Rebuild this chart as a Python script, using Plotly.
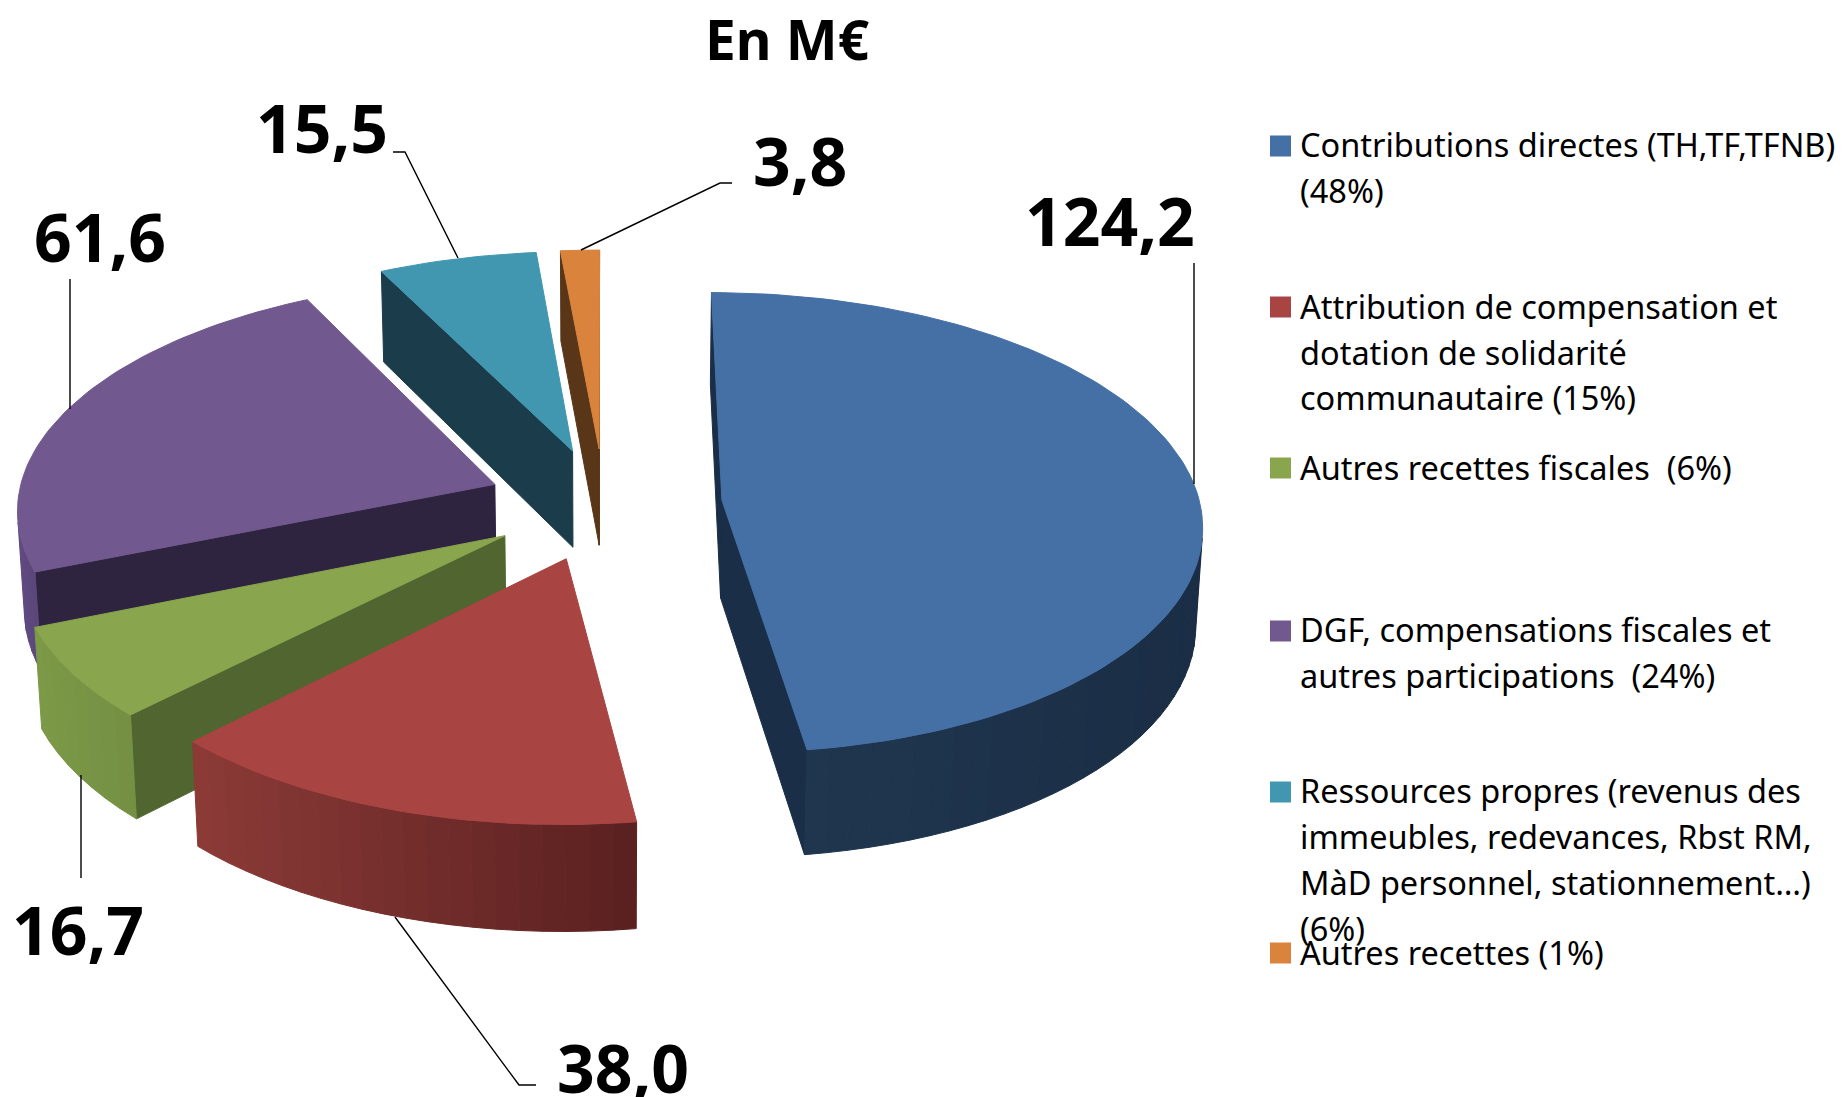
"""Budget recettes : camembert 3D eclate, en M EUR."""

import numpy as np
import plotly.graph_objects as go

VALUES = [124.2, 38.0, 16.7, 61.6, 15.5, 3.8]
VALUE_LABELS = ["124,2", "38,0", "16,7", "61,6", "15,5", "3,8"]
LEGEND_ENTRIES = [
    ["Contributions directes (TH,TF,TFNB)", "(48%)"],
    ["Attribution de compensation et", "dotation de solidarité", "communautaire (15%)"],
    ["Autres recettes fiscales  (6%)"],
    ["DGF, compensations fiscales et", "autres participations  (24%)"],
    ["Ressources propres (revenus des", "immeubles, redevances, Rbst RM,", "MàD personnel, stationnement…)", "(6%)"],
    ["Autres recettes (1%)"],
]
TOP_COLORS = ["#4570A5", "#A84441", "#89A54E", "#71588F", "#4197AF", "#D9833D"]
EDGE_COLORS = ["#1A2E48", "#5A2020", "#50652F", "#2E2440", "#1B3C4A", "#5A3618"]
WALL_LEFT = ["#20364F", "#8C3B37", "#7C9A47", "#604B82", "#1B3C4A", "#5A3618"]
WALL_RIGHT = ["#1A2D45", "#5A2020", "#748F43", "#5A4679", "#1B3C4A", "#5A3618"]

# back to front
DRAW_ORDER = [4, 5, 3, 2, 1, 0]

# pie projection, in screen pixels
CX, CY = 604.4, 504.0
RADIUS = 478.0
EXPLODE = 118.0
TILT = 0.478
HEIGHT = 99.0
DEPTH_Y = 4900.0
DEPTH_Z = 8500.0

LEGEND_X = 1298
LEGEND_LINE_Y = [
    [144, 190],
    [306, 352, 397],
    [467],
    [629, 675],
    [790, 836, 882, 928],
    [952],
]
LEGEND_SWATCH_Y = [146, 307, 468, 631, 792, 953]
LABEL_XY = [(1110, 220), (623, 1067), (78, 929), (100, 236), (322, 127), (800, 160)]
LEADERS = [
    ([1194, 1194], [263, 484]),
    ([536, 519, 395], [1085, 1085, 917]),
    ([81, 81], [878, 775]),
    ([70, 70], [279, 409]),
    ([393, 405, 458], [152, 152, 258]),
    ([732, 720, 581], [183, 183, 250]),
]


def project(x, y, z):
    s = 1 / (1 + y / DEPTH_Y - z / DEPTH_Z)
    return CX + x * s, CY - (y * TILT + z) * s


def signed_area(xs, ys):
    xs, ys = np.asarray(xs), -np.asarray(ys)
    return 0.5 * np.sum(xs * np.roll(ys, -1) - np.roll(xs, -1) * ys)


def mix(c0, c1, t):
    a = [int(c0[i:i + 2], 16) for i in (1, 3, 5)]
    b = [int(c1[i:i + 2], 16) for i in (1, 3, 5)]
    return "rgb(%d,%d,%d)" % tuple(round(p + (q - p) * t) for p, q in zip(a, b))


def polygon(xs, ys, color):
    return go.Scatter(
        x=list(xs) + [xs[0]],
        y=list(ys) + [ys[0]],
        mode="lines",
        fill="toself",
        fillcolor=color,
        line=dict(color=color, width=1),
        hoverinfo="skip",
        showlegend=False,
    )


def slice_traces(idx, a0, a1):
    """Back-face culled walls then the top face of one exploded slice."""
    mid = (a0 + a1) / 2
    ax, ay = EXPLODE * np.sin(mid), EXPLODE * np.cos(mid)

    theta = np.linspace(a0, a1, max(3, int((a1 - a0) * 40)))
    top_x, top_y = project(ax + RADIUS * np.sin(theta), ay + RADIUS * np.cos(theta), 0)
    atx, aty = project(ax, ay, 0)
    abx, aby = project(ax, ay, -HEIGHT)

    # coarser steps for the outer wall, it is shaded in bands
    steps = np.linspace(a0, a1, max(3, int((a1 - a0) * 24)))
    wall_x = ax + RADIUS * np.sin(steps)
    wall_y = ay + RADIUS * np.cos(steps)
    wt_x, wt_y = project(wall_x, wall_y, 0)
    wb_x, wb_y = project(wall_x, wall_y, -HEIGHT)

    traces = []
    start = ([atx, wt_x[0], wb_x[0], abx], [aty, wt_y[0], wb_y[0], aby])
    end = ([wt_x[-1], atx, abx, wb_x[-1]], [wt_y[-1], aty, aby, wb_y[-1]])
    for xs, ys in (start, end):
        if signed_area(xs, ys) > 0:
            traces.append(polygon(xs, ys, EDGE_COLORS[idx]))

    quads = []
    for i in range(len(steps) - 1):
        xs = [wt_x[i], wt_x[i + 1], wb_x[i + 1], wb_x[i]]
        ys = [wt_y[i], wt_y[i + 1], wb_y[i + 1], wb_y[i]]
        if signed_area(xs, ys) > 0:
            quads.append((xs, ys))
    if quads:
        x_lo = min(min(q[0]) for q in quads)
        x_hi = max(max(q[0]) for q in quads)
    for xs, ys in quads:
        t = (np.mean(xs) - x_lo) / max(x_hi - x_lo, 1)
        traces.append(polygon(xs, ys, mix(WALL_LEFT[idx], WALL_RIGHT[idx], t)))

    traces.append(polygon([atx, *top_x], [aty, *top_y], TOP_COLORS[idx]))
    return traces


fig = go.Figure()

edges = np.concatenate([[0], np.cumsum(VALUES)]) / np.sum(VALUES) * 2 * np.pi
for idx in DRAW_ORDER:
    fig.add_traces(slice_traces(idx, edges[idx], edges[idx + 1]))

for xs, ys in LEADERS:
    fig.add_trace(go.Scatter(
        x=xs, y=ys, mode="lines",
        line=dict(color="black", width=1.4),
        hoverinfo="skip", showlegend=False,
    ))

# legend swatches
fig.add_trace(go.Scatter(
    x=[1280.5] * len(LEGEND_SWATCH_Y),
    y=LEGEND_SWATCH_Y,
    mode="markers",
    marker=dict(symbol="square", size=21, color=TOP_COLORS, line=dict(width=0)),
    hoverinfo="skip",
    showlegend=False,
))

for lines, ys in zip(LEGEND_ENTRIES, LEGEND_LINE_Y):
    for line, y in zip(lines, ys):
        fig.add_annotation(
            x=LEGEND_X, y=y, text=line, showarrow=False,
            xanchor="left", yanchor="middle",
            font=dict(family="Noto Sans", size=32.5, color="black"),
        )

for label, (x, y) in zip(VALUE_LABELS, LABEL_XY):
    fig.add_annotation(
        x=x, y=y, text=f"<b>{label}</b>", showarrow=False,
        font=dict(family="Noto Sans", size=66, color="black"),
    )

fig.add_annotation(
    x=787, y=38, text="<b>En M€</b>", showarrow=False,
    font=dict(family="Noto Sans", size=55, color="black"),
)

fig.update_layout(
    width=1848,
    height=1097,
    margin=dict(l=0, r=0, t=0, b=0),
    paper_bgcolor="white",
    plot_bgcolor="white",
    xaxis=dict(range=[0, 1848], visible=False),
    yaxis=dict(range=[1097, 0], visible=False),
)

fig.write_html(
    "out.html",
    config=dict(displayModeBar=False),
    post_script="document.body.style.margin = '0';",
)
